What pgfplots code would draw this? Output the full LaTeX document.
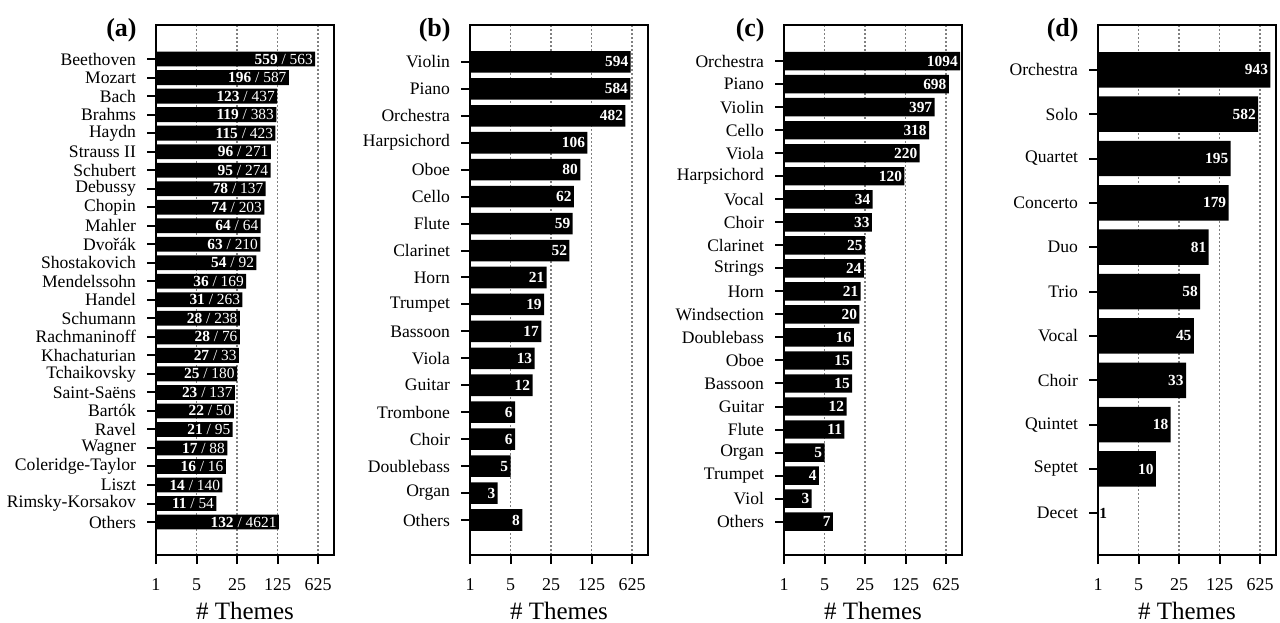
\documentclass[border=0pt]{standalone}
\usepackage{fontspec}
\setmainfont{Liberation Serif}
\usepackage{pgfplots}
\usepackage{pgfplotstable}
\pgfplotsset{compat=1.18}

% (a) composers: themes shown as bar, total after the slash
\pgfplotstableread{
y v tot
0 559 563
1 196 587
2 123 437
3 119 383
4 115 423
5 96 271
6 95 274
7 78 137
8 74 203
9 64 64
10 63 210
11 54 92
12 36 169
13 31 263
14 28 238
15 28 76
16 27 33
17 25 180
18 23 137
19 22 50
20 21 95
21 17 88
22 16 16
23 14 140
24 11 54
25 132 4621
}\composers

% (b) instruments
\pgfplotstableread{
y v
0 594
1 584
2 482
3 106
4 80
5 62
6 59
7 52
8 21
9 19
10 17
11 13
12 12
13 6
14 6
15 5
16 3
17 8
}\instrB

% (c) instruments
\pgfplotstableread{
y v
0 1094
1 698
2 397
3 318
4 220
5 120
6 34
7 33
8 25
9 24
10 21
11 20
12 16
13 15
14 15
15 12
16 11
17 5
18 4
19 3
20 7
}\instrC

% (d) ensembles (Decet plotted separately)
\pgfplotstableread{
y v
0 943
1 582
2 195
3 179
4 81
5 58
6 45
7 33
8 18
9 10
}\ensembles

\pgfplotsset{
  every axis/.append style={
    scale only axis, width=89pt, height=265pt, anchor=south west,
    xtick={1,5,25,125,625}, xticklabels={1,5,25,125,625},
    y dir=reverse,
    axis line style={line width=1pt},
    xmajorgrids,
    major grid style={black!50, line width=0.8pt, dash pattern=on 0.8pt off 1.2pt},
    xticklabel style={yshift=-4pt, font=\fontsize{9}{10}\selectfont},
    yticklabel style={xshift=-2pt, font=\fontsize{8.8}{10}\selectfont},
    xlabel={\# Themes},
    xlabel style={at={(axis description cs:0.5,0)}, anchor=base, yshift=-32pt,
      inner sep=0pt, font=\fontsize{12.5}{14}\selectfont},
    title style={at={(axis description cs:0,1)}, anchor=base east, inner sep=0pt,
      xshift=-9.5pt, yshift=-11.5pt, font=\bfseries\fontsize{13}{15}\selectfont},
  },
}

\begin{document}
\begin{tikzpicture}
\useasboundingbox (0,0) rectangle (640pt,311pt);

\begin{axis}[xbar, xmode=log, xmin=1, xmax=1180,
  tick pos=left, tick align=outside, major tick length=4.5pt,
  tick style={draw=black, line width=1pt},
  at={(78pt,33.5pt)}, title={(a)},
  ymin=-1.84, ymax=26.78, ytick={0,...,25},
  yticklabels={Beethoven,Mozart,Bach,Brahms,Haydn,Strauss II,Schubert,Debussy,Chopin,Mahler,Dvořák,Shostakovich,Mendelssohn,Handel,Schumann,Rachmaninoff,Khachaturian,Tchaikovsky,Saint-Saëns,Bartók,Ravel,Wagner,Coleridge-Taylor,Liszt,Rimsky-Korsakov,Others}]
\addplot[fill=black, draw=none, bar width=0.8, bar shift=0pt,
  point meta=explicit symbolic,
  visualization depends on={\thisrow{tot} \as \tot},
  nodes near coords={\textbf{\pgfplotspointmeta}~/~\pgfmathprintnumber[fixed, precision=0, 1000 sep={}, assume math mode=true]{\tot}},
  every node near coord/.append style={anchor=east, text=white, inner sep=1pt,
    font=\fontsize{7.7}{8}\selectfont}]
  table[x=v, y=y, meta=v] {\composers};
\end{axis}

\begin{axis}[xbar, xmode=log, xmin=1, xmax=1180,
  tick pos=left, tick align=outside, major tick length=4.5pt,
  tick style={draw=black, line width=1pt},
  at={(235pt,33.5pt)}, title={(b)},
  ymin=-1.37, ymax=18.3, ytick={0,...,17},
  yticklabels={Violin,Piano,Orchestra,Harpsichord,Oboe,Cello,Flute,Clarinet,Horn,Trumpet,Bassoon,Viola,Guitar,Trombone,Choir,Doublebass,Organ,Others}]
\addplot[fill=black, draw=none, bar width=0.8, bar shift=0pt,
  point meta=explicit symbolic,
  nodes near coords={\textbf{\pgfplotspointmeta}},
  every node near coord/.append style={anchor=east, text=white, inner sep=1pt,
    font=\fontsize{7.7}{8}\selectfont}]
  table[x=v, y=y, meta=v] {\instrB};
\end{axis}

\begin{axis}[xbar, xmode=log, xmin=1, xmax=1180,
  tick pos=left, tick align=outside, major tick length=4.5pt,
  tick style={draw=black, line width=1pt},
  at={(392pt,33.5pt)}, title={(c)},
  ymin=-1.57, ymax=21.45, ytick={0,...,20},
  yticklabels={Orchestra,Piano,Violin,Cello,Viola,Harpsichord,Vocal,Choir,Clarinet,Strings,Horn,Windsection,Doublebass,Oboe,Bassoon,Guitar,Flute,Organ,Trumpet,Viol,Others}]
\addplot[fill=black, draw=none, bar width=0.8, bar shift=0pt,
  point meta=explicit symbolic,
  nodes near coords={\textbf{\pgfplotspointmeta}},
  every node near coord/.append style={anchor=east, text=white, inner sep=1pt,
    font=\fontsize{7.7}{8}\selectfont}]
  table[x=v, y=y, meta=v] {\instrC};
\end{axis}

\begin{axis}[xbar, xmode=log, xmin=1, xmax=1180,
  tick pos=left, tick align=outside, major tick length=4.5pt,
  tick style={draw=black, line width=1pt},
  at={(549pt,33.5pt)}, title={(d)},
  ymin=-1.01, ymax=10.94, ytick={0,...,10},
  yticklabels={Orchestra,Solo,Quartet,Concerto,Duo,Trio,Vocal,Choir,Quintet,Septet,Decet}]
\addplot[fill=black, draw=none, bar width=0.8, bar shift=0pt,
  point meta=explicit symbolic,
  nodes near coords={\textbf{\pgfplotspointmeta}},
  every node near coord/.append style={anchor=east, text=white, inner sep=1pt,
    font=\fontsize{7.7}{8}\selectfont}]
  table[x=v, y=y, meta=v] {\ensembles};
\addplot[fill=black, draw=none, bar width=0.8, bar shift=0pt,
  point meta=explicit symbolic,
  nodes near coords={\textbf{\pgfplotspointmeta}},
  every node near coord/.append style={anchor=west, text=black, inner sep=0.5pt,
    font=\fontsize{7.7}{8}\selectfont}]
  coordinates {(1,10) [1]};
\end{axis}
\end{tikzpicture}
\end{document}
